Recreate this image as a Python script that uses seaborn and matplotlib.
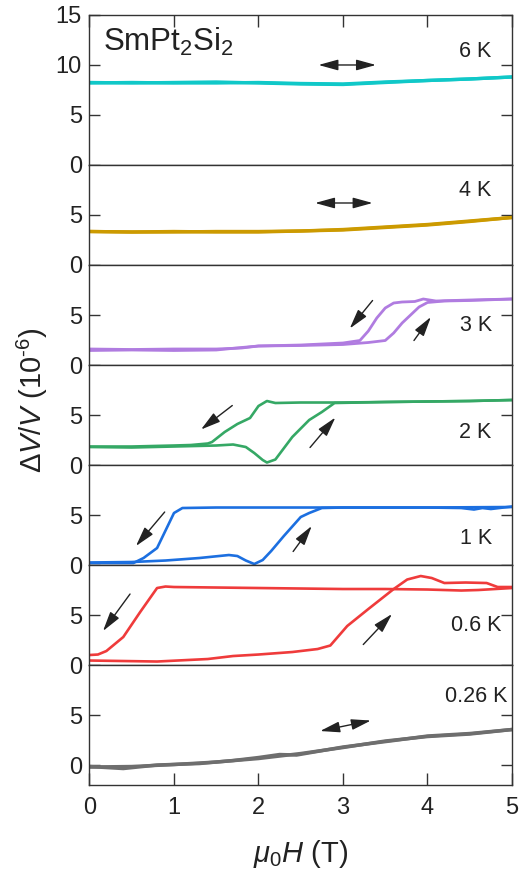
import numpy as np
import pandas as pd
import matplotlib
matplotlib.use("Agg")
import matplotlib.pyplot as plt
import seaborn as sns

# ---- field sweeps (T) and magnetostriction dV/V (1e-6) ----
# 6 K
h6_up = [0, 0.5, 1, 1.5, 2, 2.5, 3, 3.5, 4, 4.5, 5]
v6_up = [8.25, 8.2, 8.25, 8.3, 8.2, 8.1, 8.05, 8.25, 8.45, 8.6, 8.8]
h6_dn = [5, 4.5, 4, 3.5, 3, 2.5, 2, 1.5, 1, 0.5, 0]
v6_dn = [8.8, 8.6, 8.45, 8.3, 8.1, 8.15, 8.25, 8.2, 8.2, 8.25, 8.2]
# 4 K
h4_up = [0, 0.5, 1, 1.5, 2, 2.5, 3, 3.5, 4, 4.5, 5]
v4_up = [3.35, 3.3, 3.3, 3.35, 3.35, 3.4, 3.55, 3.8, 4.05, 4.4, 4.75]
h4_dn = [5, 4.5, 4, 3.5, 3, 2.5, 2, 1.5, 1, 0.5, 0]
v4_dn = [4.75, 4.35, 4.0, 3.75, 3.5, 3.4, 3.3, 3.3, 3.35, 3.3, 3.35]
# 3 K
h3_up = [0, 0.5, 1, 1.5, 1.8, 2, 2.5, 3, 3.3, 3.5, 3.6, 3.7, 3.8, 3.9, 4.0, 4.2, 4.5, 5]
v3_up = [1.45, 1.5, 1.45, 1.5, 1.75, 1.9, 1.95, 2.05, 2.25, 2.45, 3.2, 4.2, 5.0, 5.8, 6.25, 6.4, 6.45, 6.6]
h3_dn = [5, 4.5, 4.1, 3.95, 3.85, 3.7, 3.6, 3.5, 3.4, 3.3, 3.2, 3.0, 2.5, 2, 1.8, 1.5, 1, 0.5, 0]
v3_dn = [6.6, 6.5, 6.4, 6.6, 6.35, 6.3, 6.2, 5.7, 4.7, 3.4, 2.45, 2.2, 2.0, 1.9, 1.7, 1.6, 1.6, 1.55, 1.6]
# 2 K
h2_up = [0, 0.5, 1, 1.5, 1.7, 1.85, 1.95, 2.05, 2.1, 2.2, 2.4, 2.6, 2.75, 2.9, 3.5, 4, 4.5, 5]
v2_up = [1.8, 1.75, 1.85, 1.95, 2.05, 1.8, 1.2, 0.5, 0.25, 0.55, 2.8, 4.5, 5.3, 6.2, 6.3, 6.35, 6.4, 6.5]
h2_dn = [5, 4.5, 4, 3.5, 3, 2.5, 2.2, 2.1, 2.0, 1.9, 1.75, 1.6, 1.45, 1.4, 1.2, 1, 0.5, 0]
v2_dn = [6.5, 6.4, 6.35, 6.3, 6.25, 6.25, 6.2, 6.4, 5.9, 4.7, 4.1, 3.3, 2.3, 2.15, 2.0, 1.95, 1.85, 1.85]
# 1 K
h1_up = [0, 0.5, 0.9, 1.3, 1.65, 1.75, 1.85, 1.95, 2.05, 2.15, 2.3, 2.5, 2.6, 2.75, 3, 3.5, 4, 4.4, 4.55, 4.65, 4.75, 5]
v1_up = [0.25, 0.3, 0.45, 0.7, 1.0, 0.9, 0.45, 0.1, 0.5, 1.4, 2.9, 4.8, 5.2, 5.7, 5.75, 5.75, 5.75, 5.7, 5.55, 5.7, 5.6, 5.85]
h1_dn = [5, 4, 3, 2, 1.5, 1.1, 1.0, 0.92, 0.8, 0.64, 0.52, 0.3, 0]
v1_dn = [5.8, 5.75, 5.75, 5.75, 5.75, 5.7, 5.2, 3.8, 1.7, 0.7, 0.2, 0.2, 0.2]
# 0.6 K
h06_up = [0, 0.4, 0.8, 1.4, 1.7, 2.0, 2.4, 2.7, 2.85, 3.05, 3.3, 3.6, 3.76, 3.92, 4.05, 4.2, 4.45, 4.7, 4.83, 5]
v06_up = [0.45, 0.4, 0.35, 0.6, 0.9, 1.05, 1.3, 1.6, 1.95, 3.9, 5.6, 7.6, 8.55, 8.9, 8.7, 8.2, 8.25, 8.2, 7.8, 7.8]
h06_dn = [5, 4.6, 4.4, 4.0, 3.5, 3.0, 2.5, 2.0, 1.5, 1.0, 0.9, 0.8, 0.6, 0.4, 0.2, 0.1, 0]
v06_dn = [7.7, 7.5, 7.45, 7.55, 7.6, 7.6, 7.65, 7.7, 7.75, 7.8, 7.85, 7.7, 5.3, 2.8, 1.4, 1.05, 1.0]
# 0.26 K
h026_up = [0, 0.4, 0.8, 1.3, 1.7, 2.0, 2.25, 2.45, 3.0, 3.6, 4.0, 4.5, 5]
v026_up = [-0.15, -0.35, 0.0, 0.15, 0.45, 0.75, 1.05, 1.0, 1.8, 2.45, 2.9, 3.15, 3.55]
h026_dn = [5, 4.5, 4.0, 3.5, 3.0, 2.5, 2.0, 1.5, 1.0, 0.5, 0]
v026_dn = [3.55, 3.1, 2.85, 2.4, 1.75, 1.15, 0.65, 0.3, 0.05, -0.15, -0.2]

temps = ["6 K", "4 K", "3 K", "2 K", "1 K", "0.6 K", "0.26 K"]
colors = ["#10C8C8", "#CC9A00", "#B07CE0", "#35A865", "#1C6FE0", "#EF3B3B", "#6E6E6E"]
sweeps = [
    (h6_up, v6_up, h6_dn, v6_dn),
    (h4_up, v4_up, h4_dn, v4_dn),
    (h3_up, v3_up, h3_dn, v3_dn),
    (h2_up, v2_up, h2_dn, v2_dn),
    (h1_up, v1_up, h1_dn, v1_dn),
    (h06_up, v06_up, h06_dn, v06_dn),
    (h026_up, v026_up, h026_dn, v026_dn),
]
ylims = [(0, 15), (0, 10), (0, 10), (0, 10), (0, 10), (0, 10), (-2, 10)]
yticks = [[0, 5, 10, 15], [0, 5], [0, 5], [0, 5], [0, 5], [0, 5], [0, 5]]
# temperature label anchors (right edge x, centre y)
label_pos = [(4.76, 11.3), (4.76, 7.4), (4.76, 3.95), (4.76, 3.25), (4.76, 2.7), (4.87, 3.95), (4.95, 6.85)]
# field-sweep direction arrows: (tail, head, double-headed)
arrows = [
    [((2.71, 10.0), (3.39, 10.0), True)],
    [((2.67, 6.2), (3.35, 6.2), True)],
    [((3.35, 6.45), (3.08, 3.65), False), ((3.84, 2.45), (4.04, 4.8), False)],
    [((1.69, 5.95), (1.32, 3.55), False), ((2.61, 1.75), (2.91, 4.75), False)],
    [((0.89, 5.3), (0.55, 1.9), False), ((2.41, 1.35), (2.63, 3.9), False)],
    [((0.48, 7.1), (0.16, 3.4), False), ((3.24, 2.05), (3.58, 5.1), False)],
    [((2.73, 3.4), (3.33, 4.45), True)],
]
# the nearly reversible sweeps overlap into a broader trace
line_widths = [2.4, 2.4, 2.0, 1.9, 1.9, 1.9, 2.5]

sns.set_theme(style="ticks")
plt.rcParams["font.family"] = ["Liberation Sans", "DejaVu Sans"]
plt.rcParams["mathtext.fontset"] = "custom"
plt.rcParams["mathtext.rm"] = "Liberation Sans"
plt.rcParams["mathtext.it"] = "Liberation Sans:italic"
plt.rcParams["mathtext.bf"] = "Liberation Sans:bold"

ink = "#222222"
fig, axes = plt.subplots(
    7, 1, figsize=(5.19, 8.71), dpi=100, sharex=True,
    gridspec_kw={"height_ratios": [15, 10, 10, 10, 10, 10, 12]},
)
fig.subplots_adjust(left=0.1724, right=0.9865, top=0.9828, bottom=0.0987, hspace=0)

for i, ax in enumerate(axes):
    hu, vu, hd, vd = sweeps[i]
    df = pd.DataFrame({
        "H": list(hu) + list(hd),
        "dV": list(vu) + list(vd),
        "sweep": ["up"] * len(hu) + ["down"] * len(hd),
    })
    sns.lineplot(data=df, x="H", y="dV", units="sweep", estimator=None, sort=False,
                 color=colors[i], lw=line_widths[i], ax=ax, legend=False)
    ax.set_xlim(0, 5)
    ax.set_ylim(*ylims[i])
    ax.set_yticks(yticks[i])
    ax.set_xlabel("")
    ax.set_ylabel("")
    for s in ax.spines.values():
        s.set_visible(True)
        s.set_color("#333333")
        s.set_linewidth(1.0)
    ax.tick_params(axis="y", direction="in", length=8, width=1.0, color="#333333",
                   left=True, right=True, labelleft=True, labelright=False,
                   labelsize=17, labelcolor=ink, pad=5.5)
    ax.tick_params(axis="x", direction="in", length=8.5, width=1.0, color="#333333",
                   top=(i == 0), bottom=(i == 6), labelbottom=(i == 6),
                   labelsize=17, labelcolor=ink, pad=8.5)
    x_lab, y_lab = label_pos[i]
    ax.text(x_lab, y_lab, temps[i], ha="right", va="center", fontsize=15.5, color=ink)
    for tail, head, both in arrows[i]:
        style = "<|-|>" if both else "-|>"
        ax.annotate("", xy=head, xytext=tail,
                    arrowprops=dict(arrowstyle=f"{style},head_length=1.2,head_width=0.33",
                                    mutation_scale=10, color=ink, lw=1.0,
                                    shrinkA=0, shrinkB=0))

axes[-1].set_xticks([0, 1, 2, 3, 4, 5])
axes[0].text(0.16, 11.45, r"SmPt$_2$Si$_2$", ha="left", va="baseline", fontsize=22.5, color=ink)

fig.text(0.062, 0.5408, "$\\Delta V/V$ (10$^{\u2010 6}$)", rotation=90, ha="center", va="center",
         fontsize=21, color=ink)
fig.text(0.5795, 0.0100, r"$\mu_0H$ (T)", ha="center", va="baseline", fontsize=21, color=ink)

fig.savefig("out.png", dpi=100)
